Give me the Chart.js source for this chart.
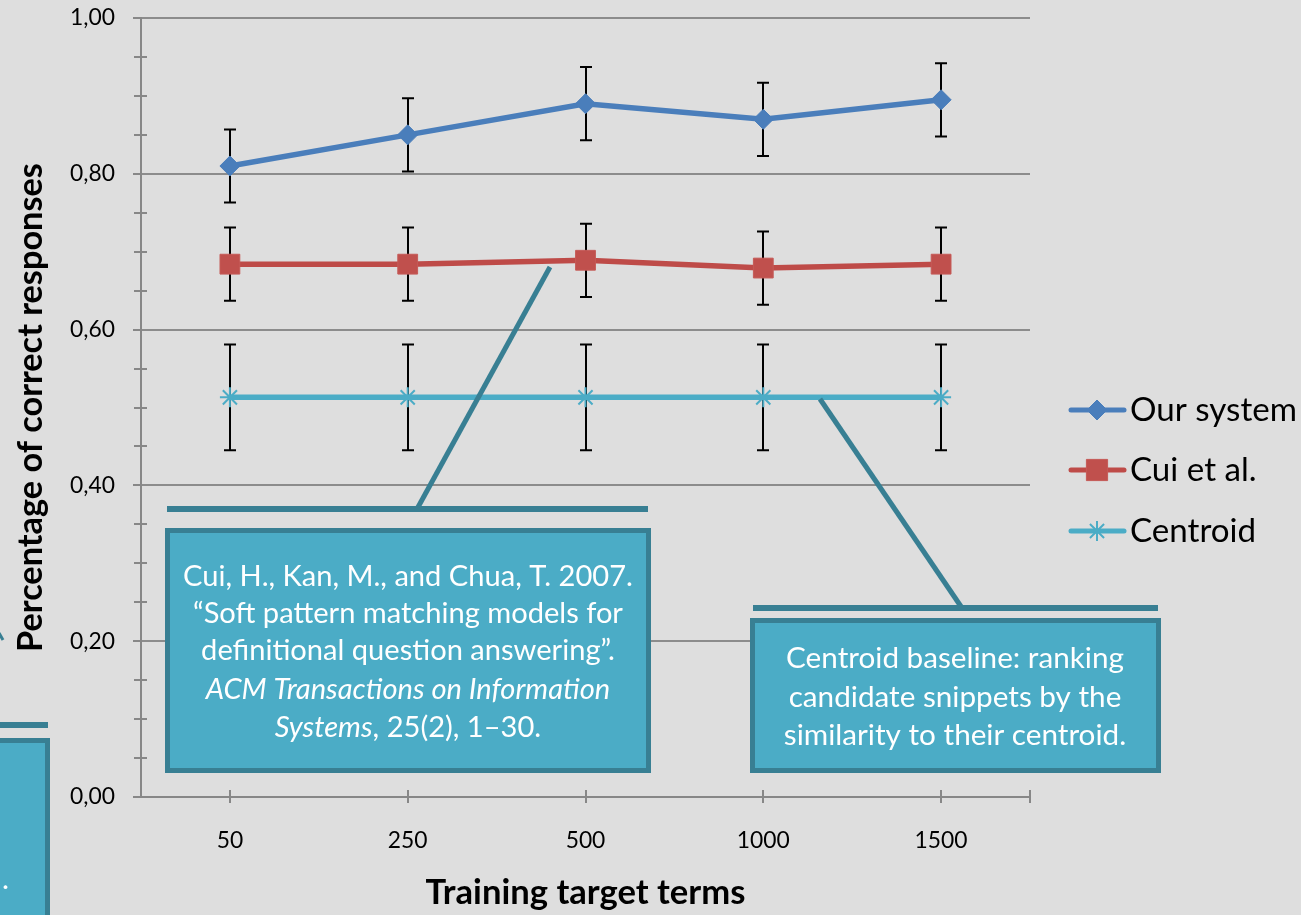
<!DOCTYPE html>
<html>
<head>
<meta charset="utf-8">
<script src="https://cdn.jsdelivr.net/npm/chart.js@4.4.1/dist/chart.umd.min.js"></script>
<style>
  html, body { margin: 0; padding: 0; background: #dedede; overflow: hidden; }
  canvas { display: block; }
</style>
</head>
<body>
<canvas id="c" width="1301" height="915"></canvas>
<script>
// ---------- data ----------
const categories = ['50', '250', '500', '1000', '1500'];
const seriesNames = ['Our system', 'Cui et al.', 'Centroid'];
const ourSystem = [0.810, 0.850, 0.890, 0.870, 0.895];
const ourSystemErr = [0.047, 0.047, 0.047, 0.047, 0.047];
const cuiEtAl = [0.684, 0.684, 0.689, 0.679, 0.684];
const cuiEtAlErr = [0.047, 0.047, 0.047, 0.047, 0.047];
const centroid = [0.513, 0.513, 0.513, 0.513, 0.513];
const centroidErr = [0.068, 0.068, 0.068, 0.068, 0.068];
const yTickValues = [0, 0.2, 0.4, 0.6, 0.8, 1.0];
const xTitle = 'Training target terms';
const yTitle = 'Percentage of correct responses';
const note1Lines = [
  [{t: 'Cui, H., Kan, M., and Chua, T. 2007.', i: false}],
  [{t: '\u201CSoft pattern matching models for', i: false}],
  [{t: 'definitional question answering\u201D.', i: false}],
  [{t: 'ACM Transactions on Information', i: true}],
  [{t: 'Systems', i: true}, {t: ', 25(2), 1\u201330.', i: false}]
];
const note2Lines = [
  'Centroid baseline: ranking',
  'candidate snippets by the',
  'similarity to their centroid.'
];

// ---------- styling helpers ----------
const FAM = 'Lato, "Open Sans", sans-serif';
const mctx = document.createElement('canvas').getContext('2d');
function fitSize(text, target, style) {
  mctx.font = style + ' 100px ' + FAM;
  return 100 * target / mctx.measureText(text).width;
}
const tickSize = fitSize('1000', 53, 'normal');
const xTitleSize = fitSize(xTitle, 320, 'bold');
const yTitleSize = fitSize(yTitle, 489, 'bold');
const legendSize = fitSize('Our system', 167, 'normal');
const note1Size = fitSize(note1Lines[0][0].t, 450, 'normal');
const note2Size = fitSize(note2Lines[0], 338, 'normal');

const AXIS_GRAY = '#878787';
const BG = '#dedede';
const BOX_FILL = '#4bacc6';
const BOX_EDGE = '#387f93';

// ---------- plugins ----------
const bgPlugin = {
  id: 'bg',
  beforeDraw(chart) {
    const c = chart.ctx;
    c.save();
    c.fillStyle = BG;
    c.fillRect(0, 0, chart.width, chart.height);
    c.restore();
  }
};

const tickPlugin = {
  id: 'ticksMinor',
  afterDraw(chart) {
    const c = chart.ctx, ys = chart.scales.y, xs = chart.scales.x, a = chart.chartArea;
    c.save();
    c.strokeStyle = AXIS_GRAY;
    c.lineWidth = 2;
    for (let k = 0; k <= 20; k++) {
      const v = k * 0.05;
      const y = Math.round(ys.getPixelForValue(v));
      c.beginPath();
      if (k % 4 === 0) { c.moveTo(a.left - 8, y); c.lineTo(a.left, y); }
      else { c.moveTo(a.left - 7, y); c.lineTo(a.left + 6, y); }
      c.stroke();
    }
    const xt = categories.map((_, i) => xs.getPixelForTick(i));
    xt.push(a.right);
    xt.forEach(x => {
      x = Math.round(x);
      c.beginPath();
      c.moveTo(x, a.bottom - 7); c.lineTo(x, a.bottom + 6);
      c.stroke();
    });
    c.restore();
  }
};

const errorBarPlugin = {
  id: 'errorBars',
  beforeDatasetsDraw(chart) {
    const c = chart.ctx, ys = chart.scales.y;
    c.save();
    c.strokeStyle = '#000';
    c.lineWidth = 2;
    chart.data.datasets.forEach((ds, i) => {
      const meta = chart.getDatasetMeta(i);
      ds.data.forEach((v, j) => {
        const e = ds.errors[j];
        const x = Math.round(meta.data[j].x);
        const yt = ys.getPixelForValue(v + e), yb = ys.getPixelForValue(v - e);
        c.beginPath();
        c.moveTo(x, yt); c.lineTo(x, yb);
        c.moveTo(x - 6, yt); c.lineTo(x + 6, yt);
        c.moveTo(x - 6, yb); c.lineTo(x + 6, yb);
        c.stroke();
      });
    });
    c.restore();
  }
};

const legendPlugin = {
  id: 'customLegend',
  afterDraw(chart) {
    const c = chart.ctx;
    const rows = [410, 470, 531];
    c.save();
    chart.data.datasets.forEach((ds, i) => {
      const y = rows[i];
      c.strokeStyle = ds.borderColor;
      c.lineWidth = 5;
      c.lineCap = 'round';
      c.beginPath();
      c.moveTo(1071, y); c.lineTo(1124, y);
      c.stroke();
      c.lineCap = 'butt';
      c.fillStyle = ds.pointBackgroundColor;
      c.strokeStyle = ds.pointBorderColor;
      c.lineWidth = ds.pointBorderWidth;
      Chart.helpers.drawPoint(c, {pointStyle: ds.pointStyle, radius: ds.legendRadius, borderWidth: ds.pointBorderWidth, rotation: 0}, 1097, y);
      c.fillStyle = '#000';
      c.font = 'normal ' + legendSize + 'px ' + FAM;
      c.textBaseline = 'middle';
      c.textAlign = 'left';
      c.fillText(ds.label, 1130, y);
    });
    c.restore();
  }
};

function drawBox(c, l, t, r, b) {
  c.fillStyle = BOX_FILL;
  c.strokeStyle = BOX_EDGE;
  c.lineWidth = 5;
  c.beginPath();
  c.rect(l + 2.5, t + 2.5, r - l - 5, b - t - 5);
  c.fill();
  c.stroke();
}

const notesPlugin = {
  id: 'notes',
  afterDraw(chart) {
    const c = chart.ctx;
    c.save();
    // leader lines
    c.strokeStyle = BOX_EDGE;
    c.lineWidth = 5;
    c.beginPath(); c.moveTo(417, 509); c.lineTo(550, 267); c.stroke();
    c.beginPath(); c.moveTo(962, 608); c.lineTo(820, 399); c.stroke();
    c.lineWidth = 3;
    c.beginPath(); c.moveTo(-1, 633); c.lineTo(3, 640); c.stroke();
    // top bars
    c.fillStyle = BOX_EDGE;
    c.fillRect(167, 506, 481, 6);
    c.fillRect(753, 605, 405, 6);
    c.fillRect(0, 722, 48, 6);
    // boxes
    drawBox(c, 165, 528, 651, 773);
    drawBox(c, 750, 618, 1161, 773);
    drawBox(c, -10, 738, 50, 930);
    // text box 1
    c.fillStyle = '#fff';
    c.textBaseline = 'alphabetic';
    c.textAlign = 'left';
    const base1 = [586, 623, 660, 699, 737];
    note1Lines.forEach((parts, k) => {
      let w = 0;
      parts.forEach(p => { c.font = (p.i ? 'italic ' : 'normal ') + note1Size + 'px ' + FAM; w += c.measureText(p.t).width; });
      let x = 408 - w / 2;
      parts.forEach(p => {
        c.font = (p.i ? 'italic ' : 'normal ') + note1Size + 'px ' + FAM;
        c.fillText(p.t, x, base1[k]);
        x += c.measureText(p.t).width;
      });
    });
    // text box 2
    c.textAlign = 'center';
    c.font = 'normal ' + note2Size + 'px ' + FAM;
    const base2 = [668, 707, 745];
    note2Lines.forEach((s, k) => c.fillText(s, 955, base2[k]));
    // partial text in left box
    c.textAlign = 'left';
    c.fillText('.', 2, 889);
    c.restore();
  }
};

// ---------- chart ----------
const ctx = document.getElementById('c').getContext('2d');
new Chart(ctx, {
  type: 'line',
  data: {
    labels: categories,
    datasets: [
      {
        label: seriesNames[0], data: ourSystem, errors: ourSystemErr,
        borderColor: '#4a7ebb', borderWidth: 5.5,
        pointStyle: 'rectRot', pointRadius: 10, legendRadius: 10,
        pointBackgroundColor: '#4a7ebb', pointBorderColor: '#4a7ebb', pointBorderWidth: 1,
        tension: 0, fill: false
      },
      {
        label: seriesNames[1], data: cuiEtAl, errors: cuiEtAlErr,
        borderColor: '#be4b48', borderWidth: 5.5,
        pointStyle: 'rect', pointRadius: 14, legendRadius: 15,
        pointBackgroundColor: '#c0504d', pointBorderColor: '#c55a57', pointBorderWidth: 1,
        tension: 0, fill: false
      },
      {
        label: seriesNames[2], data: centroid, errors: centroidErr,
        borderColor: '#4bacc6', borderWidth: 5.5,
        pointStyle: 'star', pointRadius: 10, legendRadius: 10,
        pointBackgroundColor: '#4bacc6', pointBorderColor: '#4bacc6', pointBorderWidth: 2,
        tension: 0, fill: false
      }
    ]
  },
  options: {
    responsive: false,
    animation: false,
    devicePixelRatio: 1,
    events: [],
    layout: { padding: { left: 0, right: 271, top: 18, bottom: 0 } },
    plugins: { legend: { display: false }, tooltip: { enabled: false } },
    scales: {
      x: {
        type: 'category',
        offset: true,
        grid: { display: false, drawTicks: false },
        border: { display: true, color: AXIS_GRAY, width: 2 },
        ticks: { color: '#000', font: { family: FAM, size: tickSize }, padding: 30, maxRotation: 0 },
        title: { display: true, text: xTitle, color: '#000', font: { family: FAM, size: xTitleSize, weight: 'bold' }, padding: { top: 0, bottom: 1 } },
        afterFit(s) { s.height = 118; }
      },
      y: {
        min: 0, max: 1,
        afterBuildTicks(s) { s.ticks = yTickValues.map(v => ({ value: v })); },
        grid: { color: '#8c8c8c', lineWidth: 2, drawTicks: true, tickLength: 26, tickColor: 'rgba(0,0,0,0)' },
        border: { display: true, color: AXIS_GRAY, width: 2 },
        ticks: {
          color: '#000', font: { family: FAM, size: tickSize }, padding: 0,
          callback: v => v.toFixed(2).replace('.', ',')
        },
        title: { display: true, text: yTitle, color: '#000', font: { family: FAM, size: yTitleSize, weight: 'bold' }, padding: { top: 10, bottom: 0 } },
        afterFit(s) { s.width = 141; }
      }
    }
  },
  plugins: [bgPlugin, errorBarPlugin, tickPlugin, legendPlugin, notesPlugin]
});
</script>
</body>
</html>
